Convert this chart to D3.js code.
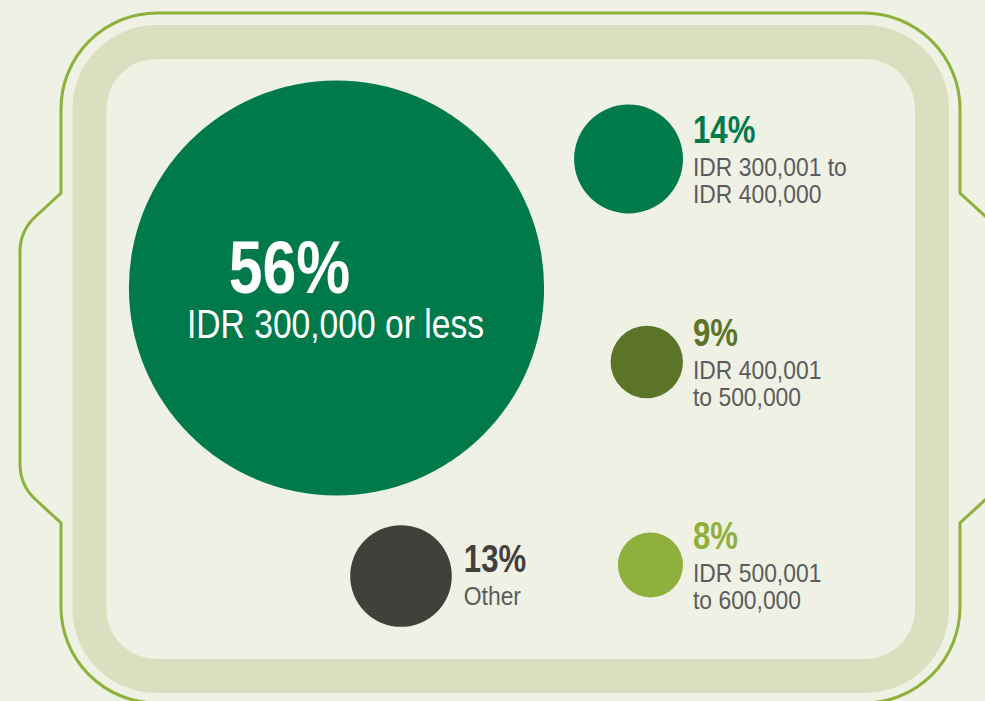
<!DOCTYPE html>
<html>
<head>
<meta charset="utf-8">
<script src="https://cdn.jsdelivr.net/npm/d3@7"></script>
<style>
  html, body { margin: 0; padding: 0; background: #eff1e5; }
  svg { display: block; }
  text { font-family: "Liberation Sans", Arial, sans-serif; }
</style>
</head>
<body>
<div id="chart"></div>
<script>
// data
const groups = ["lte300", "300to400", "400to500", "500to600", "other"];
const shares = [56, 14, 9, 8, 13];
const pctLabels = ["56%", "14%", "9%", "8%", "13%"];
const rangeLabels = [
    ["IDR 300,000 or less"],
    ["IDR 300,001 to", "IDR 400,000"],
    ["IDR 400,001", "to 500,000"],
    ["IDR 500,001", "to 600,000"],
    ["Other"]
];
const sideGroups = ["300to400", "400to500", "500to600"];

// styles
const fills = {
    "lte300": "#007a4a",
    "300to400": "#007a4a",
    "400to500": "#5c7428",
    "500to600": "#8fb03c",
    "other": "#42403b"
};
const pctColors = {
    "lte300": "#ffffff",
    "300to400": "#007a4a",
    "400to500": "#5c7428",
    "500to600": "#8fb03c",
    "other": "#42403b"
};
// no narrow font installed, so squeeze Liberation Sans horizontally
const narrow = 0.82;
const narrowSmall = 0.88;

const width = 985;
const height = 701;

const data = groups.map((g, i) => ({
    key: g,
    value: shares[i],
    pct: pctLabels[i],
    lines: rangeLabels[i]
}));

const svg = d3.select("#chart").append("svg")
    .attr("width", width)
    .attr("height", height);

svg.append("rect")
    .attr("width", width)
    .attr("height", height)
    .attr("fill", "#eff1e5");

// outer pot outline
const p = d3.path();
p.moveTo(157, 13);
p.lineTo(864, 13);
p.arcTo(960, 13, 960, 109, 96);
p.lineTo(960, 193);
p.lineTo(986, 217);
p.quadraticCurveTo(1001, 231, 1001, 252);
p.lineTo(1001, 464);
p.quadraticCurveTo(1001, 485, 986, 499);
p.lineTo(960, 523);
p.lineTo(960, 607);
p.arcTo(960, 703, 864, 703, 96);
p.lineTo(157, 703);
p.arcTo(61, 703, 61, 607, 96);
p.lineTo(61, 523);
p.lineTo(35, 499);
p.quadraticCurveTo(20, 485, 20, 464);
p.lineTo(20, 252);
p.quadraticCurveTo(20, 231, 35, 217);
p.lineTo(61, 193);
p.lineTo(61, 109);
p.arcTo(61, 13, 157, 13, 96);
p.closePath();

svg.append("path")
    .attr("d", p.toString())
    .attr("fill", "none")
    .attr("stroke", "#8db13a")
    .attr("stroke-width", 3);

// light band
svg.append("rect")
    .attr("x", 89.5)
    .attr("y", 42)
    .attr("width", 842.5)
    .attr("height", 634)
    .attr("rx", 67)
    .attr("fill", "#eff1e5")
    .attr("stroke", "#dae0bf")
    .attr("stroke-width", 34);

// scales
const r = d3.scaleLinear().domain([0, 56]).range([3.4, 207.6]);
const sideY = d3.scalePoint().domain(sideGroups).range([159, 565]);
const sideRight = 683;

const pos = (d) => {
    if (d.key === "lte300") return { x: 336.5, y: 288 };
    if (d.key === "other") return { x: 401, y: 576 };
    return { x: sideRight - r(d.value), y: sideY(d.key) };
};

const g = svg.append("g");

g.selectAll("circle")
    .data(data)
    .join("circle")
    .attr("cx", (d) => pos(d).x)
    .attr("cy", (d) => pos(d).y)
    .attr("r", (d) => r(d.value))
    .attr("fill", (d) => fills[d.key]);

// big bubble labels, inside
const big = data[0];
g.append("text")
    .attr("transform", `translate(${pos(big).x - 47}, 293) scale(${narrow}, 1)`)
    .attr("text-anchor", "middle")
    .attr("fill", pctColors[big.key])
    .attr("font-size", 74)
    .attr("font-weight", "bold")
    .text(big.pct);
g.append("text")
    .attr("transform", `translate(${pos(big).x - 1}, 338) scale(${narrow}, 1)`)
    .attr("text-anchor", "middle")
    .attr("fill", "#ffffff")
    .attr("font-size", 41)
    .text(big.lines[0]);

// side labels
const side = data.filter((d) => d.key !== "lte300");
const labels = g.selectAll("g.label")
    .data(side)
    .join("g")
    .attr("class", "label")
    .attr("transform", (d) => {
        const c = pos(d);
        const x = d.key === "other" ? c.x + r(d.value) + 12 : sideRight + 10;
        const y = d.key === "other" ? c.y - 4 : c.y - 16;
        return `translate(${x}, ${y})`;
    });

labels.append("text")
    .attr("transform", `scale(${narrow}, 1)`)
    .attr("fill", (d) => pctColors[d.key])
    .attr("font-size", 38)
    .attr("font-weight", "bold")
    .text((d) => d.pct);

labels.selectAll("text.line")
    .data((d) => d.lines)
    .join("text")
    .attr("class", "line")
    .attr("transform", (d, i) => `translate(0, ${33 + i * 27}) scale(${narrowSmall}, 1)`)
    .attr("fill", "#5b5b5d")
    .attr("font-size", 26)
    .text((d) => d);
</script>
</body>
</html>
